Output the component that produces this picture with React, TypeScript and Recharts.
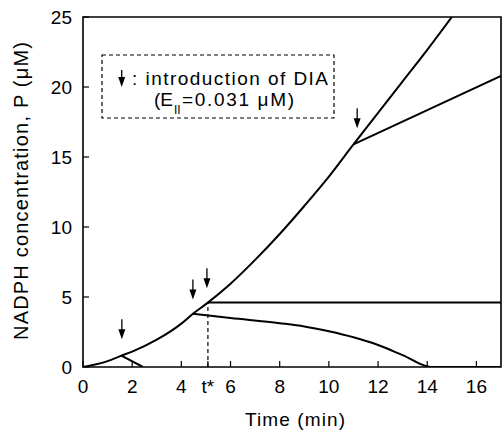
import {
  ComposedChart,
  Line,
  Scatter,
  XAxis,
  YAxis,
  ReferenceLine,
  ReferenceArea,
} from "recharts";

// time (min) where the horizontal branch starts
const tStar = 5.08;

const mainT = [0, 1, 1.56, 2, 3, 4, 4.47, 5.08, 6, 7, 8, 9, 10, 11, 12, 13, 14, 15];
const mainP = [0, 0.42, 0.81, 1.1, 1.95, 3.1, 3.8, 4.6, 5.95, 7.65, 9.5, 11.5, 13.6, 15.9, 18.15, 20.4, 22.65, 25];

const earlyT = [1.56, 2.44];
const earlyP = [0.81, 0];

const lowT = [4.47, 6, 8, 9, 10, 11, 12, 13, 14.15, 17];
const lowP = [3.8, 3.5, 3.13, 2.9, 2.55, 2.12, 1.57, 0.85, 0, 0];

const flatT = [tStar, 17];
const flatP = [4.6, 4.6];

const lateT = [11, 17];
const lateP = [15.9, 20.8];

// arrow tips (introduction of DIA)
const arrowT = [1.58, 4.47, 5.04, 11.15];
const arrowP = [1.98, 4.83, 5.62, 17.05];

const xTicks = [0, 2, 4, tStar, 6, 8, 10, 12, 14, 16];
const yTicks = [0, 5, 10, 15, 20, 25];

const toRows = (t: number[], p: number[]) => t.map((x, i) => ({ x, p: p[i] }));

const font = "'Liberation Sans', Arial, sans-serif";

function Arrow(props: any) {
  const { cx, cy } = props;
  if (cx == null || cy == null) return null;
  return (
    <g>
      <line x1={cx} y1={cy - 20} x2={cx} y2={cy - 6} stroke="#000" strokeWidth={1.3} />
      <path d={`M${cx - 3.5},${cy - 10} L${cx + 3.5},${cy - 10} L${cx},${cy} Z`} fill="#000" />
    </g>
  );
}

export default function App() {
  const tickStyle = { fontSize: 19, fontFamily: font, fill: "#000" };
  return (
    <div style={{ position: "absolute", left: 0, top: 0, width: 502, height: 437, background: "#fff" }}>
      <ComposedChart
        width={502}
        height={437}
        margin={{ top: 17, right: 1, bottom: 0, left: 0 }}
      >
        <XAxis
          type="number"
          dataKey="x"
          domain={[0, 17]}
          ticks={xTicks}
          interval={0}
          height={70}
          tickSize={-6}
          tickMargin={19}
          axisLine={false}
          tickLine={{ stroke: "#000", strokeWidth: 1.2 }}
          tick={tickStyle}
          tickFormatter={(v: number) => (v === tStar ? "t*" : String(v))}
          allowDataOverflow
        />
        <YAxis
          type="number"
          dataKey="p"
          domain={[0, 25]}
          ticks={yTicks}
          interval={0}
          width={83}
          tickSize={-6}
          tickMargin={17}
          axisLine={false}
          tickLine={{ stroke: "#000", strokeWidth: 1.2 }}
          tick={tickStyle}
          allowDataOverflow
        />
        <ReferenceArea x1={0} x2={17} y1={0} y2={25} fill="none" stroke="#000" strokeWidth={1.6} />
        <ReferenceLine
          segment={[{ x: tStar, y: 0 }, { x: tStar, y: 4.6 }]}
          stroke="#000"
          strokeWidth={1.2}
          strokeDasharray="4 3"
        />
        <Line data={toRows(mainT, mainP)} dataKey="p" type="monotone" stroke="#000" strokeWidth={2} dot={false} isAnimationActive={false} />
        <Line data={toRows(earlyT, earlyP)} dataKey="p" type="linear" stroke="#000" strokeWidth={2} dot={false} isAnimationActive={false} />
        <Line data={toRows(lowT, lowP)} dataKey="p" type="monotone" stroke="#000" strokeWidth={2} dot={false} isAnimationActive={false} />
        <Line data={toRows(flatT, flatP)} dataKey="p" type="linear" stroke="#000" strokeWidth={2} dot={false} isAnimationActive={false} />
        <Line data={toRows(lateT, lateP)} dataKey="p" type="linear" stroke="#000" strokeWidth={2} dot={false} isAnimationActive={false} />
        <Scatter data={toRows(arrowT, arrowP)} dataKey="p" shape={Arrow} isAnimationActive={false} />
      </ComposedChart>
      <svg
        width={502}
        height={437}
        style={{ position: "absolute", left: 0, top: 0, pointerEvents: "none" }}
        fontFamily={font}
      >
        <rect x={102} y={55} width={232} height={63} fill="none" stroke="#000" strokeWidth={1.2} strokeDasharray="4 3" />
        <line x1={121.7} y1={70} x2={121.7} y2={80} stroke="#000" strokeWidth={1.3} />
        <path d="M118.2,77 L125.2,77 L121.7,87 Z" fill="#000" />
        <text x={132} y={85} fontSize={19} textLength={196} lengthAdjust="spacing">
          : introduction of DIA
        </text>
        <text x={154} y={106} fontSize={19}>(E</text>
        <text x={174} y={114} fontSize={12}>II</text>
        <text x={182} y={106} fontSize={19} textLength={112} lengthAdjust="spacing">=0.031 μM)</text>
        <text x={295} y={426} fontSize={19} textAnchor="middle" textLength={100} lengthAdjust="spacing">
          Time (min)
        </text>
        <text
          x={28}
          y={191}
          fontSize={20}
          textAnchor="middle"
          transform="rotate(-90 28 191)"
          textLength={298}
          lengthAdjust="spacing"
        >
          NADPH concentration, P (μM)
        </text>
      </svg>
    </div>
  );
}
